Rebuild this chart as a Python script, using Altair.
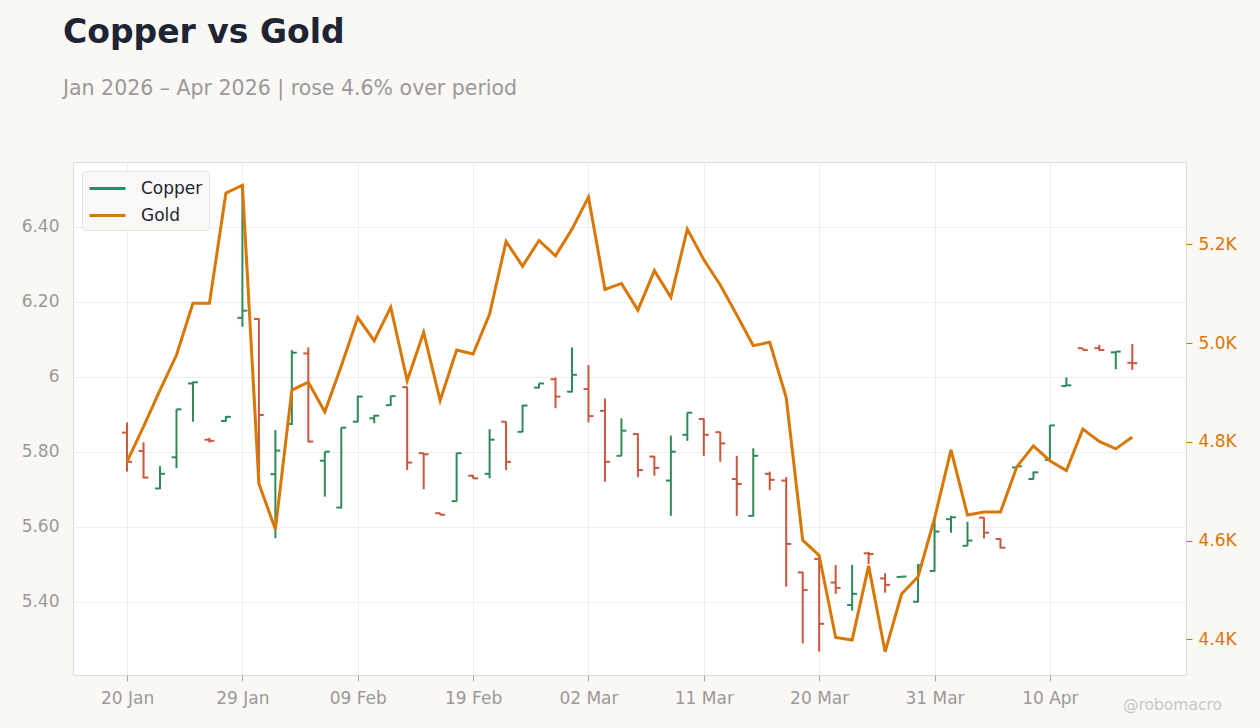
import altair as alt
import pandas as pd

# ---------------- data ----------------
tick_labels = ["20 Jan", "29 Jan", "09 Feb", "19 Feb", "02 Mar",
               "11 Mar", "20 Mar", "31 Mar", "10 Apr"]

copper_open = [5.851, 5.802, 5.702, 5.785, 5.982, 5.832, 5.882, 6.157, 6.154, 5.740,
               5.874, 6.062, 5.776, 5.651, 5.880, 5.889, 5.924, 5.972, 5.796, 5.636,
               5.668, 5.736, 5.741, 5.880, 5.853, 5.971, 5.993, 5.960, 5.967, 5.909,
               5.789, 5.847, 5.787, 5.723, 5.845, 5.887, 5.852, 5.727, 5.629, 5.741,
               5.723, 5.478, 5.514, 5.451, 5.391, 5.529, 5.462, 5.466, 5.400, 5.482,
               5.620, 5.549, 5.624, 5.567, 5.758, 5.727, 5.778, 5.975, 6.076, 6.076,
               6.065, 6.037]
copper_high = [5.878, 5.825, 5.762, 5.913, 5.987, 5.837, 5.895, 6.511, 6.156, 5.858,
               6.071, 6.078, 5.800, 5.865, 5.949, 5.898, 5.949, 5.973, 5.797, 5.637,
               5.797, 5.738, 5.860, 5.880, 5.925, 5.982, 5.998, 6.078, 6.031, 5.942,
               5.889, 5.849, 5.789, 5.843, 5.904, 5.889, 5.853, 5.789, 5.809, 5.747,
               5.732, 5.480, 5.516, 5.498, 5.498, 5.533, 5.476, 5.468, 5.500, 5.622,
               5.629, 5.613, 5.625, 5.569, 5.762, 5.747, 5.871, 5.998, 6.076, 6.085,
               6.067, 6.087]
copper_low = [5.747, 5.729, 5.700, 5.756, 5.880, 5.824, 5.880, 6.133, 5.747, 5.569,
              5.871, 5.825, 5.680, 5.649, 5.878, 5.876, 5.922, 5.751, 5.700, 5.631,
              5.667, 5.728, 5.729, 5.751, 5.852, 5.969, 5.916, 5.958, 5.878, 5.720,
              5.789, 5.732, 5.736, 5.629, 5.829, 5.789, 5.773, 5.629, 5.627, 5.698,
              5.440, 5.289, 5.267, 5.421, 5.376, 5.500, 5.424, 5.465, 5.398, 5.480,
              5.584, 5.549, 5.569, 5.542, 5.757, 5.726, 5.776, 5.975, 6.071, 6.069,
              6.020, 6.018]
copper_close = [5.773, 5.731, 5.741, 5.913, 5.985, 5.829, 5.893, 6.176, 5.898, 5.803,
                6.064, 5.827, 5.800, 5.864, 5.947, 5.896, 5.948, 5.771, 5.793, 5.632,
                5.796, 5.729, 5.832, 5.773, 5.923, 5.982, 5.947, 6.005, 5.895, 5.773,
                5.856, 5.751, 5.757, 5.800, 5.904, 5.845, 5.822, 5.714, 5.789, 5.725,
                5.554, 5.431, 5.341, 5.437, 5.421, 5.527, 5.445, 5.467, 5.497, 5.587,
                5.625, 5.563, 5.584, 5.544, 5.761, 5.745, 5.870, 5.977, 6.071, 6.071,
                6.067, 6.036]
gold = [4760, 4831, 4905, 4976, 5081, 5081, 5304, 5320, 4716, 4623,
        4905, 4921, 4861, 4954, 5052, 5005, 5073, 4924, 5022, 4884,
        4986, 4978, 5059, 5206, 5156, 5208, 5177, 5231, 5296, 5109,
        5121, 5067, 5147, 5093, 5231, 5169, 5118, 5057, 4995, 5002,
        4890, 4601, 4570, 4404, 4399, 4549, 4375, 4492, 4527, 4645,
        4784, 4652, 4658, 4658, 4750, 4792, 4762, 4742, 4826, 4801,
        4786, 4810]

left_ticks = [5.4, 5.6, 5.8, 6.0, 6.2, 6.4]
right_ticks = [4400, 4600, 4800, 5000, 5200]

# ---------------- styling ----------------
FONT = "DejaVu Sans"
UP = "#2e8b57"
DOWN = "#c8573c"
LEG_GREEN = "#109a6e"
GOLD = "#d97706"
GRID = "#eeeeee"
LABEL = "#999999"

n = len(gold)
df = pd.DataFrame({
    "i": list(range(n)),
    "open": copper_open,
    "high": copper_high,
    "low": copper_low,
    "close": copper_close,
    "gold": gold,
})
df["series"] = "Gold"

tick_idx = [7 * k for k in range(len(tick_labels))]
label_expr = "[" + ",".join("'" + t + "'" for t in tick_labels) + "][round(datum.value/7)]"

x_scale = alt.Scale(domain=[-3.28, 64.26], nice=False, zero=False)
x_axis = alt.Axis(values=tick_idx, labelExpr=label_expr, title=None, grid=True,
                  gridColor=GRID, domain=False, ticks=True, tickColor="#aaaaaa",
                  tickSize=6, labelColor=LABEL, labelFontSize=17, labelFont=FONT,
                  labelPadding=9)

y_cu_scale = alt.Scale(domain=[5.2045, 6.5725], nice=False, zero=False)
y_cu_axis = alt.Axis(values=left_ticks, orient="left", title=None, grid=True,
                     gridColor=GRID, domain=False, ticks=False, tickSize=0,
                     labelColor=LABEL, labelFontSize=17, labelFont=FONT,
                     labelPadding=14,
                     labelExpr="datum.value == 6 ? '6' : format(datum.value, '.2f')")

y_au_scale = alt.Scale(domain=[4328, 5367], nice=False, zero=False)
y_au_axis = alt.Axis(values=right_ticks, orient="right", title=None, grid=False,
                     domain=False, ticks=True, tickColor=GOLD, tickSize=6,
                     labelColor=GOLD, labelFontSize=17, labelFont=FONT,
                     labelPadding=6,
                     labelExpr="format(datum.value/1000, '.1f') + 'K'")

bar_color = alt.condition("datum.close >= datum.open", alt.value(UP), alt.value(DOWN))

base = alt.Chart(df)

hl = base.mark_rule(strokeWidth=2).encode(
    x=alt.X("i:Q", scale=x_scale, axis=x_axis),
    y=alt.Y("low:Q", scale=y_cu_scale, axis=y_cu_axis),
    y2="high:Q",
    color=bar_color,
)
op = base.transform_calculate(xl="datum.i - 0.3").mark_rule(strokeWidth=2).encode(
    x="xl:Q", x2="i:Q", y="open:Q", color=bar_color,
)
cl = base.transform_calculate(xr="datum.i + 0.3").mark_rule(strokeWidth=2).encode(
    x="i:Q", x2="xr:Q", y="close:Q", color=bar_color,
)
copper = alt.layer(hl, op, cl)

gold_line = base.mark_line(strokeWidth=3).encode(
    x="i:Q",
    y=alt.Y("gold:Q", scale=y_au_scale, axis=y_au_axis),
    color=alt.Color("series:N",
                    scale=alt.Scale(domain=["Copper", "Gold"], range=[LEG_GREEN, GOLD]),
                    legend=alt.Legend(title=None, orient="top-left", offset=9,
                                      padding=6, fillColor="#faf9f7",
                                      strokeColor="#e6e2dc", cornerRadius=3,
                                      symbolType="M-1.8,0L1.8,0", symbolSize=400,
                                      symbolOffset=8,
                                      symbolStrokeWidth=3, labelFontSize=17,
                                      labelFont=FONT, labelColor="#1e2433",
                                      labelOffset=22, rowPadding=7)),
)

mark_df = pd.DataFrame({"t": ["@robomacro"]})
watermark = alt.Chart(mark_df).mark_text(
    fontSize=15.5, font=FONT, color="#c8c8c8", align="right", baseline="middle"
).encode(text="t:N", x=alt.value(1149), y=alt.value(543))

chart = alt.layer(copper, gold_line, watermark).resolve_scale(
    y="independent"
).properties(
    width=1113,
    height=513,
    padding={"left": 73, "top": 162, "right": 74, "bottom": 53},
    autosize=alt.AutoSizeParams(type="none"),
    title=alt.TitleParams(
        text="Copper vs Gold",
        subtitle="Jan 2026 – Apr 2026 | rose 4.6% over period",
        anchor="start", frame="group", dx=-10,
        font=FONT, fontSize=33, fontWeight="bold", color="#1e2433",
        subtitleFont=FONT, subtitleFontSize=20.5, subtitleColor="#999999",
        subtitleFontWeight="normal", subtitlePadding=29, offset=63,
    ),
).configure(
    background="#f9f8f5",
).configure_view(
    fill="white", stroke="#e0dcd5", strokeWidth=1,
)

chart.save("out.html", embed_options={"renderer": "svg", "actions": False})
